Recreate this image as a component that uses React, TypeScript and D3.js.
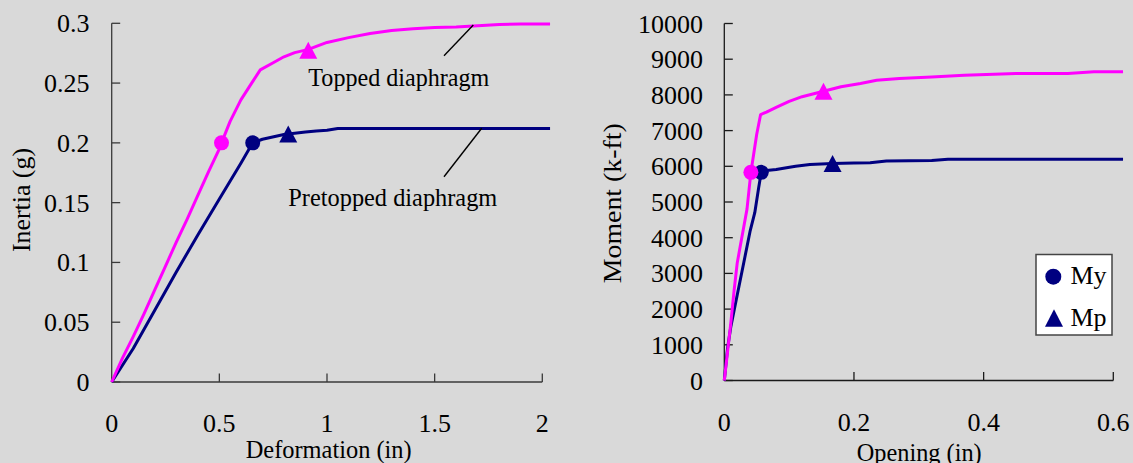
import React from "react";
import * as d3 from "d3";

// ---------- Data ----------
const leftXTicks = [0, 0.5, 1, 1.5, 2];
const leftXLabels = ["0", "0.5", "1", "1.5", "2"];
const leftYTicks = [0, 0.05, 0.1, 0.15, 0.2, 0.25, 0.3];
const leftYLabels = ["0", "0.05", "0.1", "0.15", "0.2", "0.25", "0.3"];

const rightXTicks = [0, 0.2, 0.4, 0.6];
const rightXLabels = ["0", "0.2", "0.4", "0.6"];
const rightYTicks = [0, 1000, 2000, 3000, 4000, 5000, 6000, 7000, 8000, 9000, 10000];
const rightYLabels = rightYTicks.map(String);

// Inertia vs deformation
const toppedInertia: [number, number][] = [
  [0, 0], [0.05, 0.02], [0.1, 0.038], [0.15, 0.057], [0.2, 0.077], [0.25, 0.097],
  [0.3, 0.117], [0.35, 0.136], [0.4, 0.156], [0.45, 0.176], [0.5, 0.195], [0.51, 0.2],
  [0.55, 0.218], [0.6, 0.236], [0.65, 0.25], [0.69, 0.261], [0.75, 0.267], [0.8, 0.272],
  [0.85, 0.2755], [0.91, 0.278], [1.0, 0.284], [1.1, 0.288], [1.2, 0.2915], [1.3, 0.294],
  [1.4, 0.2955], [1.5, 0.2965], [1.6, 0.297], [1.7, 0.298], [1.8, 0.299], [1.9, 0.2995],
  [2.036, 0.2995],
];
const pretoppedInertia: [number, number][] = [
  [0, 0], [0.1, 0.028], [0.2, 0.06], [0.3, 0.092], [0.4, 0.123], [0.5, 0.153],
  [0.6, 0.183], [0.655, 0.2], [0.7, 0.203], [0.8, 0.207], [0.85, 0.208], [0.9, 0.209],
  [0.95, 0.21], [1.0, 0.2105], [1.05, 0.212], [1.5, 0.212], [2.036, 0.212],
];
const toppedInertiaMarks = { my: [0.51, 0.2], mp: [0.913, 0.2775] };
const pretoppedInertiaMarks = { my: [0.655, 0.2], mp: [0.82, 0.2075] };

// Moment vs opening
const toppedMoment: [number, number][] = [
  [0, 0], [0.005, 800], [0.01, 1600], [0.015, 2500], [0.02, 3300], [0.025, 3800],
  [0.03, 4300], [0.035, 4800], [0.041, 5830], [0.045, 6300], [0.05, 6900], [0.056, 7450],
  [0.065, 7520], [0.08, 7650], [0.1, 7820], [0.12, 7950], [0.153, 8100], [0.18, 8230],
  [0.21, 8320], [0.235, 8410], [0.27, 8460], [0.32, 8500], [0.37, 8550], [0.45, 8600],
  [0.53, 8600], [0.57, 8650], [0.615, 8650],
];
const pretoppedMoment: [number, number][] = [
  [0, 0], [0.005, 900], [0.01, 1500], [0.02, 2400], [0.03, 3300], [0.04, 4200],
  [0.047, 4700], [0.053, 5400], [0.057, 5830], [0.065, 5880], [0.08, 5910], [0.096, 5960],
  [0.11, 6000], [0.132, 6050], [0.167, 6080], [0.2, 6090], [0.225, 6100], [0.25, 6150],
  [0.32, 6160], [0.345, 6200], [0.615, 6200],
];
const toppedMomentMarks = { my: [0.041, 5830], mp: [0.153, 8100] };
const pretoppedMomentMarks = { my: [0.057, 5830], mp: [0.167, 6080] };

const legendItems = ["My", "Mp"];

// ---------- Style ----------
const PINK = "#ff00ff";
const NAVY = "#000080";
const BG = "#d9d9d9";
const FONT = "'Liberation Serif', 'Times New Roman', serif";
const FS = 26;

const triPath = (cx: number, cy: number, w = 18, h = 17) =>
  `M${cx},${cy - h / 2}L${cx + w / 2},${cy + h / 2}L${cx - w / 2},${cy + h / 2}Z`;

type Marks = { my: number[]; mp: number[] };

function Panel(props: {
  x0: number; x1: number; y0: number; y1: number;
  xDomain: [number, number]; yDomain: [number, number];
  xTicks: number[]; xLabels: string[]; yTicks: number[]; yLabels: string[];
  series: { data: [number, number][]; color: string; marks: Marks }[];
  yLabelEnd: number; xLabelOffset: number;
  axisColor: string;
}) {
  const { x0, x1, y0, y1, xDomain, yDomain, xTicks, xLabels, yTicks, yLabels, series } = props;
  const xs = d3.scaleLinear().domain(xDomain).range([x0, x1]);
  const ys = d3.scaleLinear().domain(yDomain).range([y0, y1]);
  const line = d3.line<[number, number]>().x((d) => xs(d[0])).y((d) => ys(d[1]));
  return (
    <g>
      {/* axes */}
      <line x1={x0} x2={x0} y1={y1} y2={y0} stroke={props.axisColor} strokeWidth={1.3} />
      <line x1={x0} x2={x1} y1={y0} y2={y0} stroke={props.axisColor} strokeWidth={1.3} />
      {yTicks.map((t, i) => (
        <g key={"y" + i}>
          <line x1={x0} x2={x0 + 8.5} y1={ys(t)} y2={ys(t)} stroke={props.axisColor} strokeWidth={1.3} />
          <text x={props.yLabelEnd} y={ys(t) + 9} textAnchor="end" fontFamily={FONT} fontSize={FS} fill="#000">
            {yLabels[i]}
          </text>
        </g>
      ))}
      {xTicks.map((t, i) => (
        <g key={"x" + i}>
          {i > 0 && (
            <line x1={xs(t)} x2={xs(t)} y1={y0} y2={y0 - 8.5} stroke={props.axisColor} strokeWidth={1.3} />
          )}
          <text x={xs(t)} y={y0 + props.xLabelOffset} textAnchor="middle" fontFamily={FONT} fontSize={FS} fill="#000">
            {xLabels[i]}
          </text>
        </g>
      ))}
      {series.map((s, i) => (
        <path key={"l" + i} d={line(s.data) || ""} fill="none" stroke={s.color} strokeWidth={3} strokeLinejoin="round" />
      ))}
      {series.map((s, i) => (
        <g key={"m" + i}>
          <circle cx={xs(s.marks.my[0])} cy={ys(s.marks.my[1])} r={7.5} fill={s.color} />
          <path d={triPath(xs(s.marks.mp[0]), ys(s.marks.mp[1]))} fill={s.color} />
        </g>
      ))}
    </g>
  );
}

export default function App() {
  return (
    <svg width={1133} height={463} style={{ position: "absolute", left: 0, top: 0, background: BG }}>
      <rect x={0} y={0} width={1133} height={463} fill={BG} />
      <Panel
        x0={111.7} x1={542.3} y0={382} y1={23.3}
        xDomain={[0, 2]} yDomain={[0, 0.3]}
        xTicks={leftXTicks} xLabels={leftXLabels} yTicks={leftYTicks} yLabels={leftYLabels}
        series={[
          { data: pretoppedInertia, color: NAVY, marks: pretoppedInertiaMarks },
          { data: toppedInertia, color: PINK, marks: toppedInertiaMarks },
        ]}
        yLabelEnd={89.5} xLabelOffset={50} axisColor="#3a3a3a"
      />
      <Panel
        x0={724.3} x1={1113.3} y0={380.5} y1={23.5}
        xDomain={[0, 0.6]} yDomain={[0, 10000]}
        xTicks={rightXTicks} xLabels={rightXLabels} yTicks={rightYTicks} yLabels={rightYLabels}
        series={[
          { data: pretoppedMoment, color: NAVY, marks: pretoppedMomentMarks },
          { data: toppedMoment, color: PINK, marks: toppedMomentMarks },
        ]}
        yLabelEnd={703} xLabelOffset={50} axisColor="#1a1a1a"
      />

      {/* axis titles */}
      <text x={328.7} y={458} textAnchor="middle" fontFamily={FONT} fontSize={FS} textLength={166} lengthAdjust="spacingAndGlyphs">
        Deformation (in)
      </text>
      <text x={919.2} y={461} textAnchor="middle" fontFamily={FONT} fontSize={FS} textLength={125} lengthAdjust="spacingAndGlyphs">
        Opening (in)
      </text>
      <text transform="translate(29.5,200) rotate(-90)" textAnchor="middle" fontFamily={FONT} fontSize={FS} textLength={104} lengthAdjust="spacingAndGlyphs">
        Inertia (g)
      </text>
      <text transform="translate(620.7,203.3) rotate(-90)" textAnchor="middle" fontFamily={FONT} fontSize={FS} textLength={160} lengthAdjust="spacingAndGlyphs">
        Moment (k-ft)
      </text>

      {/* annotations */}
      <line x1={444} y1={55.7} x2={473.3} y2={25} stroke="#000" strokeWidth={1.4} />
      <text x={308.3} y={86} fontFamily={FONT} fontSize={FS} textLength={181} lengthAdjust="spacingAndGlyphs">
        Topped diaphragm
      </text>
      <line x1={444} y1={176.7} x2={481.7} y2={128.3} stroke="#000" strokeWidth={1.4} />
      <text x={288.3} y={206} fontFamily={FONT} fontSize={FS} textLength={209} lengthAdjust="spacingAndGlyphs">
        Pretopped diaphragm
      </text>

      {/* legend */}
      <rect x={1036} y={254.5} width={76} height={80.5} fill="#fff" stroke="#444" strokeWidth={1.5} />
      <circle cx={1053.3} cy={276.7} r={8} fill={NAVY} />
      <text x={1070.5} y={284.3} fontFamily={FONT} fontSize={FS}>{legendItems[0]}</text>
      <path d={triPath(1054, 318, 18, 17.4)} fill={NAVY} />
      <text x={1070.5} y={325.7} fontFamily={FONT} fontSize={FS}>{legendItems[1]}</text>
    </svg>
  );
}
